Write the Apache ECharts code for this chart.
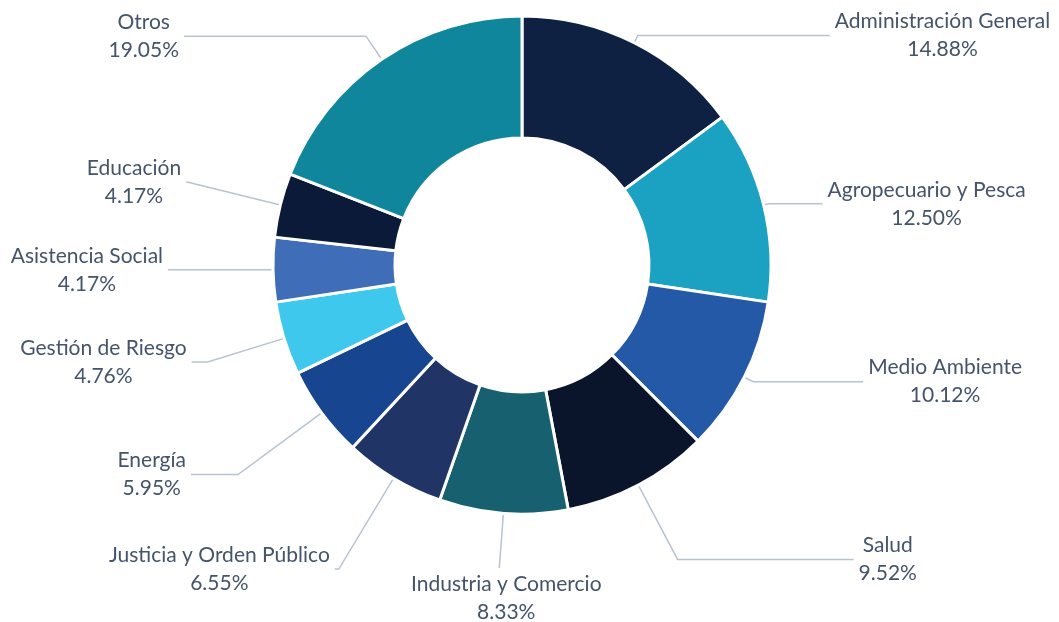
<!DOCTYPE html>
<html>
<head>
<meta charset="utf-8">
<script src="https://cdn.jsdelivr.net/npm/echarts@6/dist/echarts.min.js"></script>
<style>
  html, body { margin: 0; padding: 0; background: #fff; }
  #chart { width: 1059px; height: 622px; }
</style>
</head>
<body>
<div id="chart"></div>
<script>
// sectors, clockwise from 12 o'clock (counts out of 168)
const categories = [
  "Administración General", "Agropecuario y Pesca", "Medio Ambiente", "Salud",
  "Industria y Comercio", "Justicia y Orden Público", "Energía", "Gestión de Riesgo",
  "Asistencia Social", "Educación", "Otros"
];
const values = [25, 21, 17, 16, 14, 11, 10, 8, 7, 7, 32];

const colors = [
  "#0f2143", "#1ba1c1", "#2459a8", "#0a152b", "#166070", "#213466",
  "#17458f", "#3fc8ee", "#3f6db8", "#0b1a38", "#10869d"
];
// leader line lengths [first segment, horizontal segment] per sector
const leaders = [
  [8, 192], [5, 54], [10, 110], [84, 176], [55, 0], [106, 4],
  [104, 47], [80, 16], [5, 100], [95, 2], [28, 182]
];

const total = values.reduce((a, b) => a + b, 0);

const myChart = echarts.init(document.getElementById("chart"));

const option = {
  animation: false,
  series: [
    {
      type: "pie",
      center: [522, 265],
      radius: [127, 249],
      startAngle: 90,
      clockwise: true,
      avoidLabelOverlap: false,
      itemStyle: {
        borderColor: "#fff",
        borderWidth: 3
      },
      label: {
        show: true,
        distanceToLabelLine: 5,
        formatter: (p) => "{t|" + p.name + "}\n{t|" + (p.value / total * 100).toFixed(2) + "%}",
        rich: {
          t: { align: "center", fontFamily: "Lato", fontSize: 21, color: "#44546a", lineHeight: 28 }
        }
      },
      labelLine: {
        show: true,
        lineStyle: { color: "#b8c3d2", width: 1.5 }
      },
      // the label right under the ring is centred below its vertical leader
      labelLayout: (params) => {
        const pts = params.labelLinePoints;
        if (pts && Math.abs(pts[2][0] - pts[0][0]) < 15) {
          return {
            dx: params.labelRect.width / 2 + 12,
            dy: params.labelRect.height / 2 + 6
          };
        }
        return {};
      },
      data: categories.map((name, i) => ({
        name: name,
        value: values[i],
        itemStyle: { color: colors[i] },
        labelLine: { length: leaders[i][0], length2: leaders[i][1] }
      }))
    }
  ]
};

myChart.setOption(option);
window.addEventListener("resize", () => myChart.resize());
</script>
</body>
</html>
